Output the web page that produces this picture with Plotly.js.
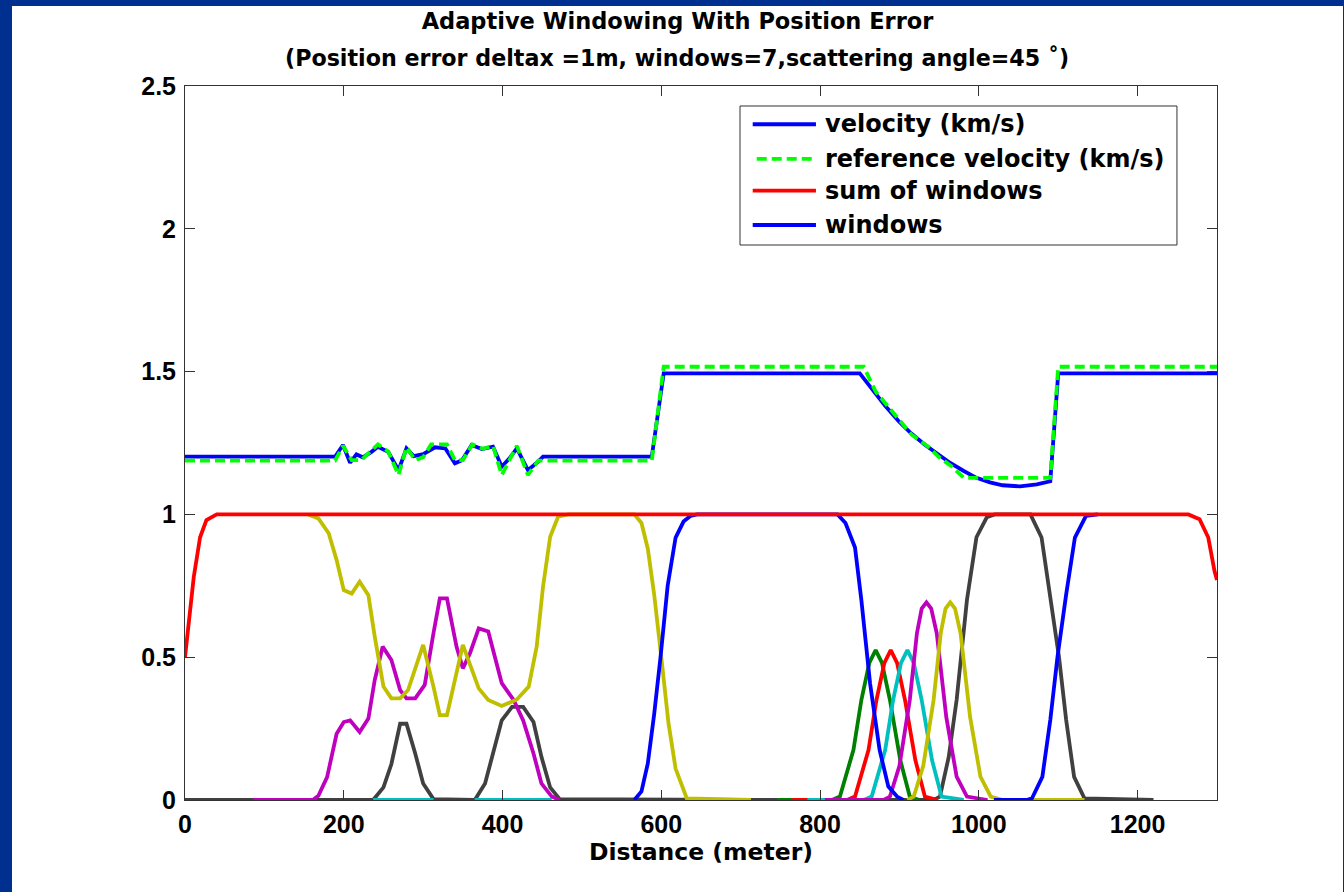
<!DOCTYPE html>
<html>
<head>
<meta charset="utf-8">
<script src="https://cdn.plot.ly/plotly-3.0.1.min.js"></script>
<style>
  html, body { margin:0; padding:0; width:1344px; height:892px; background:#00308F; overflow:hidden; }
  #plot { position:absolute; left:12px; top:6px; width:1331px; height:886px; background:#fff; }
</style>
</head>
<body>
<div id="plot"></div>
<script>
// ---- data ----
const velX = [0,189,199,208,216,224,235,243,256,269,279,288,300,315,328,340,349,361,374,388,399,409,418,432,445,451,588,603,850,866,882,899,915,932,948,964,981,997,1014,1030,1052,1073,1090,1100,1300];
const velY = [1.202,1.202,1.243,1.181,1.210,1.200,1.219,1.237,1.219,1.155,1.231,1.204,1.211,1.235,1.231,1.179,1.190,1.243,1.229,1.237,1.167,1.197,1.231,1.155,1.185,1.202,1.202,1.494,1.494,1.436,1.380,1.326,1.283,1.244,1.210,1.180,1.152,1.128,1.112,1.102,1.098,1.105,1.116,1.494,1.494];

const refX = [0,189,199,210,222,243,256,269,279,290,300,310,330,340,350,362,375,388,399,410,418,432,445,588,603,855,870,885,900,915,935,950,965,981,1090,1100,1300];
const refY = [1.188,1.188,1.240,1.190,1.190,1.245,1.220,1.138,1.235,1.190,1.200,1.245,1.245,1.190,1.190,1.245,1.230,1.240,1.138,1.200,1.240,1.138,1.188,1.188,1.517,1.517,1.430,1.380,1.330,1.280,1.240,1.200,1.170,1.128,1.128,1.517,1.517];

const sumX = [0,6,11,19,27,40,1264,1278,1289,1297,1300];
const sumY = [0.5,0.64,0.78,0.92,0.98,1,1,0.983,0.919,0.80,0.77];

// windows
const gray1X = [0,237,250,260,271,279,290,300,313,365,378,388,399,412,426,439,449,460,472,700];
const gray1Y = [0,0,0.044,0.126,0.267,0.267,0.163,0.058,0.003,0,0.058,0.163,0.279,0.326,0.326,0.273,0.151,0.044,0.003,0];
const gray2X = [700,943,951,962,972,985,997,1010,1020,1065,1079,1090,1101,1110,1120,1133,1220];
const gray2Y = [0,0,0.012,0.15,0.35,0.70,0.92,0.99,1,1,0.919,0.72,0.5,0.28,0.081,0.006,0];

const cyan1X = [237,313,null,365,462];
const cyan1Y = [0,0,null,0,0];

const yellow1X = [155,168,181,191,200,210,220,231,239,250,260,271,281,300,313,321,330,350,370,382,399,418,433,443,451,460,470,483,566,575,583,591,600,609,618,632,713];
const yellow1Y = [1,0.986,0.934,0.84,0.735,0.723,0.764,0.717,0.572,0.397,0.356,0.356,0.385,0.543,0.397,0.297,0.297,0.543,0.391,0.350,0.329,0.352,0.397,0.537,0.747,0.922,0.992,1,1,0.97,0.88,0.72,0.5,0.27,0.11,0.006,0];

const magenta1X = [86,161,168,179,191,200,208,220,231,239,249,260,271,279,290,302,313,321,330,342,350,359,370,382,399,414,426,439,449,462,472];
const magenta1Y = [0,0,0.015,0.08,0.232,0.273,0.279,0.238,0.285,0.42,0.537,0.49,0.385,0.356,0.356,0.403,0.584,0.706,0.706,0.537,0.461,0.514,0.601,0.590,0.409,0.350,0.279,0.163,0.058,0.012,0];

const blue1X = [566,575,583,591,599,608,618,628,637,645,822,832,844,852,863,875,886,897,905];
const blue1Y = [0,0.03,0.128,0.3,0.5,0.75,0.919,0.975,0.995,1,1,0.97,0.884,0.70,0.408,0.175,0.047,0.012,0];

const greenWX = [746,815,825,842,852,862,870,878,888,901,913,925];
const greenWY = [0,0,0.012,0.175,0.35,0.48,0.525,0.48,0.35,0.14,0.012,0];

const redWX = [765,834,844,861,871,881,889,897,907,920,932,948];
const redWY = [0,0,0.012,0.175,0.35,0.48,0.525,0.48,0.35,0.14,0.012,0];

const cyan2X = [784,855,865,882,892,902,910,918,928,941,953,981];
const cyan2Y = [0,0,0.012,0.175,0.35,0.48,0.525,0.48,0.35,0.14,0.012,0];

const magenta2X = [806,880,888,900,913,922,928,934,940,947,959,972,985,1011];
const magenta2Y = [0,0,0.012,0.12,0.35,0.584,0.67,0.692,0.67,0.584,0.29,0.082,0.012,0];

const yellow2X = [910,918,930,943,952,958,964,970,977,989,1002,1015,1030,1133];
const yellow2Y = [0,0.012,0.12,0.35,0.584,0.67,0.692,0.67,0.584,0.29,0.082,0.012,0,0];

const blue2X = [1019,1060,1067,1080,1090,1099,1110,1121,1135,1150];
const blue2Y = [0,0,0.006,0.081,0.28,0.5,0.72,0.919,0.995,1];

const xTicks = [0,200,400,600,800,1000,1200];
const yTicks = [0,0.5,1,1.5,2,2.5];
const yTickText = ['0','0.5','1','1.5','2','2.5'];

const titleLine1 = 'Adaptive Windowing With Position Error';
const titleLine2 = '(Position error deltax =1m, windows=7,scattering angle=45 \u02DA)';
const xTitle = 'Distance (meter)';
const legendNames = ['velocity (km/s)', 'reference velocity (km/s)', 'sum of windows', 'windows'];

// ---- colours ----
const C = {blue:'#0000FF', green:'#008000', red:'#FF0000', cyan:'#00BFBF', magenta:'#BF00BF', yellow:'#BFBF00', gray:'#404040', lime:'#00FF00'};
const LW = 3.8;

function win(x, y, color) {
  return {x:x, y:y, type:'scatter', mode:'lines', line:{color:color, width:LW}, showlegend:false, hoverinfo:'skip', connectgaps:false};
}

const traces = [
  win(gray1X, gray1Y, C.gray),
  win(gray2X, gray2Y, C.gray),
  win(cyan1X, cyan1Y, C.cyan),
  win(magenta1X, magenta1Y, C.magenta),
  win(yellow1X, yellow1Y, C.yellow),
  win(greenWX, greenWY, C.green),
  win(redWX, redWY, C.red),
  win(cyan2X, cyan2Y, C.cyan),
  win(magenta2X, magenta2Y, C.magenta),
  win(yellow2X, yellow2Y, C.yellow),
  win(blue2X, blue2Y, C.blue),
  win(blue1X, blue1Y, C.blue),
  {x:sumX, y:sumY, type:'scatter', mode:'lines', line:{color:C.red, width:LW}, showlegend:false},
  {x:velX, y:velY, type:'scatter', mode:'lines', line:{color:C.blue, width:LW}, showlegend:false},
  {x:refX, y:refY, type:'scatter', mode:'lines', line:{color:C.lime, width:LW, dash:'10px,5px'}, showlegend:false}
];

const SANS = '"DejaVu Sans", Verdana, sans-serif';
const ARIAL = 'Arial, "Liberation Sans", Helvetica, sans-serif';

// legend drawn as a boxed key (paper coordinates of the plot area)
const legRows = [0.9464, 0.8978, 0.8534, 0.8053];
const legColors = [C.blue, C.lime, C.red, C.blue];
const legDash = ['solid', '10px,5px', 'solid', 'solid'];
const shapes = [{type:'rect', xref:'paper', yref:'paper', x0:0.5378, x1:0.9612, y0:0.7773, y1:0.972,
                 line:{color:'#333', width:1}, fillcolor:'#ffffff', layer:'above'}];
const annotations = [];
legendNames.forEach((nm, i) => {
  shapes.push({type:'line', xref:'paper', yref:'paper', x0:(i===1?0.5540:0.5501), x1:(i===1?0.6090:0.6114), y0:legRows[i], y1:legRows[i],
               line:{color:legColors[i], width:LW, dash:legDash[i]}, layer:'above'});
  annotations.push({xref:'paper', yref:'paper', x:0.6182, y:legRows[i], xanchor:'left', yanchor:'middle',
                    text:nm, showarrow:false, font:{family:SANS, size:24, weight:'bold', color:'#000'}});
});
annotations.push({xref:'paper', yref:'paper', x:0.4767, y:1.0395, xanchor:'center', yanchor:'middle',
                  text:titleLine2, showarrow:false, font:{family:SANS, size:22.2, weight:'bold', color:'#000'}});

const layout = {
  width:1331, height:886,
  paper_bgcolor:'#ffffff', plot_bgcolor:'#ffffff',
  margin:{l:173, r:126, t:80, b:92},
  font:{family:ARIAL, color:'#000'},
  title:{
    text:titleLine1,
    font:{family:SANS, size:22.5, weight:'bold', color:'#000'},
    x:0.5, xref:'container', xanchor:'center',
    y:0.983, yref:'container', yanchor:'middle'
  },
  xaxis:{
    range:[0,1300], tickmode:'array', tickvals:xTicks, ticktext:xTicks.map(String),
    ticks:'inside', ticklen:10, tickwidth:1, tickcolor:'#333',
    showline:true, linecolor:'#333', linewidth:1, mirror:'ticks',
    showgrid:false, zeroline:false, ticklabelstandoff:2,
    tickfont:{family:ARIAL, size:25, weight:'bold', color:'#000'},
    title:{text:xTitle, font:{family:SANS, size:23.5, weight:'bold', color:'#000'}, standoff:0}
  },
  yaxis:{
    range:[0,2.5], tickmode:'array', tickvals:yTicks, ticktext:yTickText,
    ticks:'inside', ticklen:10, tickwidth:1, tickcolor:'#333',
    showline:true, linecolor:'#333', linewidth:1, mirror:'ticks',
    showgrid:false, zeroline:false, ticklabelstandoff:3,
    tickfont:{family:ARIAL, size:25, weight:'bold', color:'#000'}
  },
  shapes:shapes,
  annotations:annotations,
  showlegend:false
};

Plotly.newPlot('plot', traces, layout, {displayModeBar:false, staticPlot:true});
</script>
</body>
</html>
